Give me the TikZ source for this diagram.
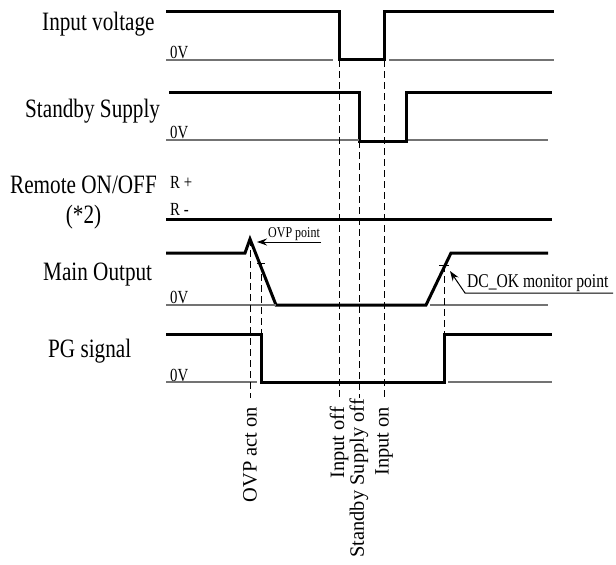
\documentclass[tikz,border=0pt]{standalone}
\usepackage{fontspec}
\setmainfont{Liberation Serif}
\newfontfamily\narrowserif{Liberation Serif}[FakeStretch=0.8]
\usetikzlibrary{arrows.meta,positioning,calc}

\begin{document}
\begin{tikzpicture}[
    x=1pt, y=-1pt,
    wave/.style={line width=3pt},
    zero/.style={draw=black!55, line width=1.2pt},
    guide/.style={dash pattern=on 7pt off 4pt, line width=0.8pt},
    tick/.style={line width=0.8pt},
    signame/.style={anchor=base west, inner sep=0pt, font=\narrowserif\fontsize{26.5}{30}\selectfont},
    level/.style={anchor=base west, inner sep=0pt, font=\narrowserif\fontsize{18.5}{21}\selectfont},
    event/.style={rotate=90, anchor=east, inner sep=0pt, font=\fontsize{20.4}{24}\selectfont},
    note/.style={anchor=base west, inner sep=0pt, font=\narrowserif\fontsize{15}{17}\selectfont},
    arrow/.style={-{Stealth[length=10pt, width=7pt]}, line width=1pt}
]
\useasboundingbox (0,0) rectangle (616,565);

% Signal names
\node[signame] (vin) at (42,30) {Input voltage};
\node[signame] (sby) at (25,117) {Standby Supply};
\node[signame, anchor=base] (rem) at (83.5,193) {Remote ON/OFF};
\node[signame, anchor=base] (remnote) at (83.5,223) {(*2)};
\node[signame] (mout) at (43,280) {Main Output};
\node[signame] (pg) at (48,357) {PG signal};

% Levels
\node[level] (vin0) at (170,58) {0V};
\node[level] (sby0) at (170,138) {0V};
\node[level] (rplus) at (170,188) {R +};
\node[level] (rminus) at (170,215) {R -};
\node[level] (mout0) at (170,303) {0V};
\node[level] (pg0) at (170,381) {0V};

% Input voltage
\draw[wave] (166,11) -- (339,11) -- (339,59) -- (384,59) -- (384,11) -- (554,11);
\draw[zero] (166,60) -- (333,60) (389,60) -- (554,60);

% Standby supply
\draw[wave] (169,92) -- (359,92) -- (359,141) -- (406,141) -- (406,92) -- (552,92);
\draw[zero] (166,140) -- (359,140) (408,140) -- (548,140);

% Remote ON/OFF
\draw[wave] (166,219) -- (552,219);

% Main output
\draw[wave] (166,253) -- (245,253) -- (250,239) -- (276,305) -- (426,305) -- (451,253) -- (548,253);
\draw[zero] (166,305) -- (276,305) (430,305) -- (548,305);

% PG signal
\draw[wave] (166,334) -- (261,334) -- (261,382) -- (444,382) -- (444,334) -- (552,334);
\draw[zero] (166,382) -- (257,382) (448,382) -- (552,382);

% Event labels
\node[event] (ovpon) at (250,407) {OVP act on};
\node[event] (inoff) at (339,407) {Input off};
\node[event] (sbyoff) at (359,399) {Standby Supply off};
\node[event] (inon) at (384,407) {Input on};

% Guide lines
\coordinate (peak) at (250,239);
\coordinate (ovptick) at (261,263);
\coordinate (pgfall) at (261,334);
\coordinate (dctick) at (444,265);
\coordinate (pgrise) at (444,334);
\coordinate (vinfall) at (339,60);
\coordinate (vinrise) at (384,60);
\coordinate (sbyfall) at (359,141);

\draw[guide, shorten >=9pt] (peak) -- (ovpon.east);
\draw[guide] (ovptick) -- (pgfall);
\draw[guide] (dctick) -- (pgrise);
\draw[guide, shorten >=9pt] (vinfall) -- (inoff.east);
\draw[guide, shorten >=9pt] (vinrise) -- (inon.east);
\draw[guide, shorten >=1pt] (sbyfall) -- (sbyoff.east);

\draw[tick] ($(ovptick)+(-4,0)$) -- ($(ovptick)+(4,0)$);
\draw[tick] ($(dctick)+(-5,0)$) -- ($(dctick)+(5,0)$);

% Monitor points
\node[note] (ovppt) at (268,237) {OVP point};
\coordinate (ovptail) at (321,242);
\coordinate (ovptip) at (257,242);
\draw[arrow] (ovptail) -- (ovptip);

\node[note, font=\narrowserif\fontsize{19.5}{22}\selectfont] (dcok) at (467,287) {DC\_OK monitor point};
\coordinate (dctail) at (613,293);
\coordinate (dcknee) at (465,293);
\coordinate (dctip) at (450,271);
\draw[arrow] (dctail) -- (dcknee) -- (dctip);

\end{tikzpicture}
\end{document}
